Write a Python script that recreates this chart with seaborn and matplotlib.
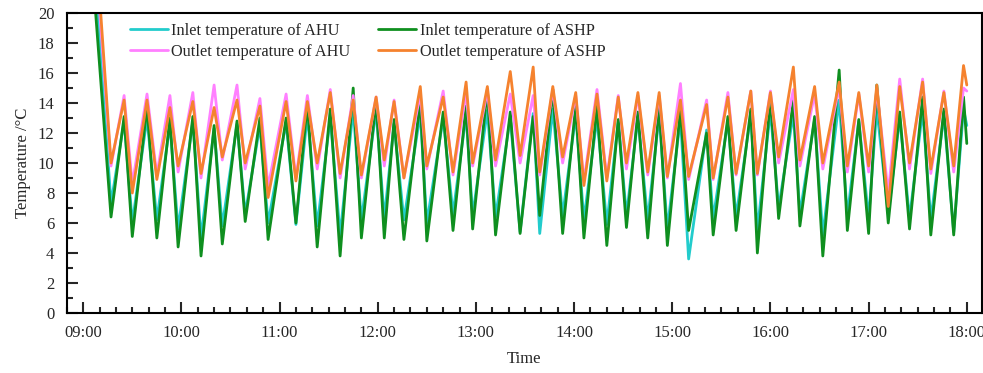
import pandas as pd
import numpy as np
import seaborn as sns
import matplotlib
matplotlib.use("Agg")
import matplotlib.pyplot as plt
import matplotlib.dates as mdates
from matplotlib.ticker import MultipleLocator

# --------------------------------------
# Data (troughs and peaks of each cycle)
# --------------------------------------
day = "2021-01-01 "
start_time = "09:00"
end_time = "18:00"

trough_times = ["09:17", "09:30", "09:45", "09:58", "10:12", "10:25", "10:39", "10:53",
                "11:10", "11:23", "11:37", "11:50", "12:04", "12:16", "12:30", "12:46",
                "12:58", "13:12", "13:27", "13:39", "13:53", "14:06", "14:20", "14:32",
                "14:45", "14:57", "15:10", "15:25", "15:39", "15:52", "16:05", "16:18",
                "16:32", "16:47", "17:00", "17:12", "17:25", "17:38", "17:52"]
peak_times = ["09:25", "09:39", "09:53", "10:07", "10:20", "10:34", "10:48", "11:04",
              "11:17", "11:31", "11:45", "11:59", "12:10", "12:26", "12:40", "12:54",
              "13:07", "13:21", "13:35", "13:47", "14:01", "14:14", "14:27", "14:39",
              "14:52", "15:05", "15:21", "15:34", "15:48", "16:00", "16:14", "16:27",
              "16:42", "16:54", "17:05", "17:19", "17:33", "17:46", "17:58"]

# Inlet temperature of ASHP (green)
green_start, green_end = 31.0, 11.3
green_low = [6.4, 5.1, 5.0, 4.4, 3.8, 4.6, 6.1, 4.9, 6.0, 4.4, 3.8, 5.0, 5.0, 4.9, 4.8,
             5.5, 5.6, 5.2, 5.3, 6.5, 5.3, 5.0, 4.5, 5.7, 5.0, 4.5, 5.5, 5.2, 5.5, 4.0,
             6.3, 5.8, 3.8, 5.5, 5.3, 6.0, 5.6, 5.2, 5.2]
green_high = [13.1, 13.8, 13.0, 13.1, 12.5, 12.8, 13.0, 13.0, 14.0, 13.6, 15.0, 14.2, 12.9,
              14.2, 13.4, 13.8, 14.9, 13.4, 13.1, 14.9, 13.8, 13.8, 12.9, 13.4, 13.8, 13.6,
              12.0, 13.1, 13.6, 14.4, 14.2, 13.1, 16.2, 12.9, 15.2, 13.4, 14.4, 13.6, 14.4]

# Inlet temperature of AHU (cyan)
cyan_start, cyan_end = 34.0, 12.5
cyan_low = [7.3, 6.0, 6.2, 5.6, 5.0, 5.8, 6.6, 6.0, 5.9, 5.8, 5.2, 6.2, 6.3, 6.2, 6.0,
            6.6, 6.5, 6.4, 5.4, 5.3, 6.5, 6.2, 5.9, 6.5, 6.2, 5.6, 3.6, 6.3, 6.4, 5.5,
            7.0, 6.6, 5.2, 6.5, 6.3, 6.6, 6.3, 6.2, 5.4]
cyan_high = [12.8, 13.0, 12.6, 12.8, 12.3, 12.6, 12.5, 12.7, 13.2, 13.0, 13.6, 13.5, 12.6,
             13.3, 13.0, 13.2, 13.5, 13.0, 13.3, 13.6, 13.2, 13.0, 12.8, 13.0, 13.2, 13.0,
             12.2, 12.8, 13.2, 13.5, 13.3, 12.9, 14.2, 12.8, 13.6, 13.0, 13.5, 13.2, 13.6]

# Outlet temperature of ASHP (orange)
orange_start, orange_end = 37.0, 15.2
orange_low = [10.0, 8.0, 8.9, 9.8, 9.3, 10.4, 10.0, 7.7, 8.8, 10.0, 9.3, 9.2, 10.2, 9.0,
              9.8, 9.4, 10.0, 10.2, 10.5, 9.4, 10.4, 8.5, 8.8, 10.0, 9.4, 9.1, 9.1, 9.0,
              9.3, 9.3, 10.4, 10.2, 10.0, 9.8, 9.8, 7.1, 10.0, 9.6, 9.8]
orange_high = [14.2, 14.2, 13.7, 14.1, 13.7, 14.2, 13.8, 14.1, 14.1, 14.7, 14.2, 14.4, 14.1,
               15.1, 14.4, 15.4, 15.1, 16.1, 16.4, 15.1, 14.7, 14.6, 14.4, 14.7, 14.7, 14.2,
               13.9, 14.4, 14.8, 14.7, 16.4, 15.1, 15.4, 14.7, 15.2, 15.1, 15.4, 14.7, 16.5]

# Outlet temperature of AHU (pink)
pink_start, pink_end = 35.0, 14.8
pink_low = [9.8, 8.6, 9.2, 9.4, 9.0, 10.2, 9.6, 8.4, 9.0, 9.6, 9.0, 9.0, 9.8, 9.0, 9.6,
            9.2, 9.8, 9.8, 10.0, 9.2, 10.0, 8.8, 9.0, 9.6, 9.2, 9.0, 8.9, 8.9, 9.2, 9.2,
            10.0, 9.8, 9.6, 9.4, 9.4, 8.0, 9.6, 9.3, 9.4]
pink_high = [14.5, 14.6, 14.5, 14.7, 15.2, 15.2, 14.3, 14.6, 14.5, 14.9, 14.5, 14.4, 14.2,
             14.6, 14.8, 14.7, 14.8, 14.6, 14.5, 14.9, 14.5, 14.9, 14.5, 14.5, 14.5, 15.3,
             14.2, 14.7, 14.8, 14.8, 14.9, 14.6, 15.1, 14.6, 14.9, 15.6, 15.6, 14.8, 15.0]

labels = ["Inlet temperature of AHU", "Inlet temperature of ASHP",
          "Outlet temperature of AHU", "Outlet temperature of ASHP"]
colors = ["#22cccc", "#0f8f1f", "#ff80ff", "#f5822e"]


# --------------------------------------
# Build long-form table
# --------------------------------------
def build(name, first, lows, highs, last):
    times = [start_time]
    vals = [first]
    for tt, lo, tp, hi in zip(trough_times, lows, peak_times, highs):
        times += [tt, tp]
        vals += [lo, hi]
    times.append(end_time)
    vals.append(last)
    return pd.DataFrame({"time": pd.to_datetime([day + t for t in times]),
                         "temp": vals, "series": name})


df = pd.concat([
    build(labels[0], cyan_start, cyan_low, cyan_high, cyan_end),
    build(labels[1], green_start, green_low, green_high, green_end),
    build(labels[2], pink_start, pink_low, pink_high, pink_end),
    build(labels[3], orange_start, orange_low, orange_high, orange_end),
], ignore_index=True)

# --------------------------------------
# Plot
# --------------------------------------
sns.set_style("ticks")
plt.rcParams["font.family"] = ["Liberation Serif", "DejaVu Serif"]

fig = plt.figure(figsize=(9.83, 3.73), dpi=100)
ax = fig.add_axes([0.068, 0.161, 0.9305, 0.804])

sns.lineplot(data=df, x="time", y="temp", hue="series", hue_order=labels,
             palette=dict(zip(labels, colors)), linewidth=2.0, sort=False,
             estimator=None, ax=ax)

ax.set_ylim(0, 20)
ax.yaxis.set_major_locator(MultipleLocator(2))
ax.yaxis.set_minor_locator(MultipleLocator(1))
ax.set_xlim(pd.Timestamp(day + "08:50"), pd.Timestamp(day + "18:09"))
ax.xaxis.set_major_locator(mdates.HourLocator())
ax.xaxis.set_minor_locator(mdates.MinuteLocator(byminute=range(0, 60, 10)))
ax.xaxis.set_major_formatter(mdates.DateFormatter("%H:%M"))

ax.tick_params(which="major", direction="in", length=8, width=1.5, labelsize=12)
ax.tick_params(which="minor", direction="in", length=4, width=1.5)
ax.tick_params(axis="x", pad=9)
ax.tick_params(axis="y", pad=9)
for s in ax.spines.values():
    s.set_linewidth(1.5)
    s.set_color("black")

ax.set_xlabel("Time", fontsize=12, labelpad=7)
ax.set_ylabel("Temperature /°C", fontsize=12, labelpad=5)

handles, _ = ax.get_legend_handles_labels()
order = [0, 2, 1, 3]
ax.legend([handles[i] for i in order], [labels[i] for i in order], ncol=2,
          loc="upper left", bbox_to_anchor=(0.053, 1.015), frameon=False, fontsize=11.7,
          handlelength=2.35, handletextpad=0.2, columnspacing=1.7, labelspacing=0.3)

plt.savefig("out.png", dpi=100)
